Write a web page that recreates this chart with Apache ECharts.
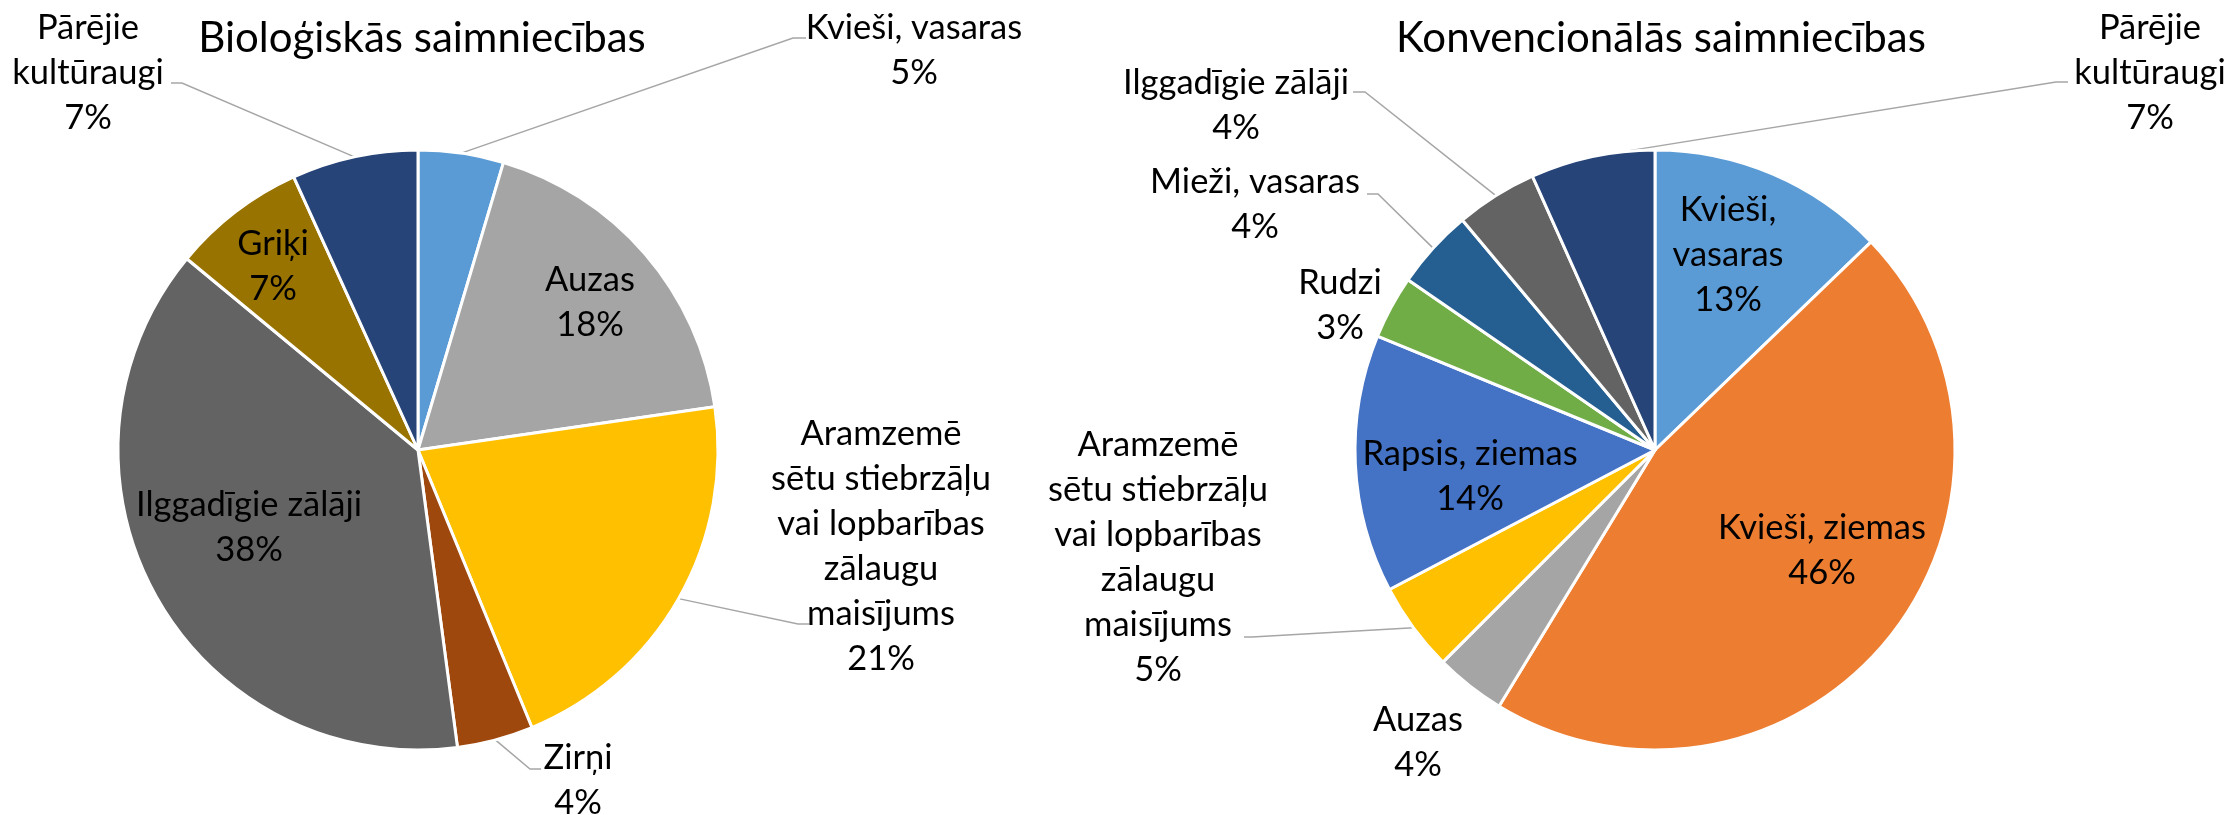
<!DOCTYPE html>
<html>
<head>
<meta charset="utf-8">
<title>Bioloģiskās un konvencionālās saimniecības</title>
<script src="https://cdn.jsdelivr.net/npm/echarts@6/dist/echarts.min.js"></script>
<style>
    html, body { margin: 0; padding: 0; background: #fff; }
    #chart { width: 2232px; height: 815px; }
</style>
</head>
<body>
<div id="chart"></div>
<script>
// Bioloģiskās saimniecības (clockwise from 12 o'clock)
var bioNames = ['Kvieši, vasaras', 'Auzas', 'Aramzemē\nsētu stiebrzāļu\nvai lopbarības\nzālaugu\nmaisījums',
    'Zirņi', 'Ilggadīgie zālāji', 'Griķi', 'Pārējie\nkultūraugi'];
var bioValues = [4.6, 18.1, 21.1, 4.1, 38.1, 7.2, 6.8];
var bioColors = ['#5B9BD5', '#A5A5A5', '#FFC000', '#9E480E', '#636363', '#997300', '#264478'];

// Konvencionālās saimniecības
var convNames = ['Kvieši,\nvasaras', 'Kvieši, ziemas', 'Auzas', 'Aramzemē\nsētu stiebrzāļu\nvai lopbarības\nzālaugu\nmaisījums',
    'Rapsis, ziemas', 'Rudzi', 'Mieži, vasaras', 'Ilggadīgie zālāji', 'Pārējie\nkultūraugi'];
var convValues = [12.8, 45.9, 3.8, 4.8, 13.9, 3.4, 4.3, 4.4, 6.7];
var convColors = ['#5B9BD5', '#ED7D31', '#A5A5A5', '#FFC000', '#4472C4', '#70AD47', '#255E91', '#636363', '#264478'];

// label placement (label centre, then knee + end of the leader line if there is one)
var bioSpots = [
    { at: [914, 50], line: [[793, 38], [806, 38]] },
    { at: [590, 302] },
    { at: [881, 546], line: [[798, 624], [809, 624]] },
    { at: [578, 780], line: [[530, 769], [541, 769]] },
    { at: [249, 527] },
    { at: [273, 266] },
    { at: [88, 73], line: [[182, 83], [171, 83]] }
];
var convSpots = [
    { at: [1728, 255] },
    { at: [1822, 550] },
    { at: [1418, 742] },
    { at: [1158, 557], line: [[1252, 637], [1244, 637]] },
    { at: [1470, 476] },
    { at: [1340, 305] },
    { at: [1255, 204], line: [[1378, 194], [1367, 194]] },
    { at: [1236, 105], line: [[1365, 92], [1353, 92]] },
    { at: [2150, 73], line: [[2056, 82], [2068, 82]] }
];

var FONT = 'Lato, "Noto Sans", sans-serif';

function buildData(names, values, colors, spots) {
    return names.map(function (n, i) {
        return {
            name: n,
            value: values[i],
            itemStyle: { color: colors[i] },
            labelLine: { show: !!spots[i].line }
        };
    });
}

function makeLayout(spots) {
    return function (params) {
        var s = spots[params.dataIndex];
        var out = { x: s.at[0], y: s.at[1], align: 'center', verticalAlign: 'middle' };
        if (s.line && params.labelLinePoints) {
            out.labelLinePoints = [params.labelLinePoints[0], s.line[0], s.line[1]];
        }
        return out;
    };
}

function pieSeries(name, center, data, spots) {
    return {
        name: name,
        type: 'pie',
        center: center,
        radius: 300,
        startAngle: 90,
        clockwise: true,
        avoidLabelOverlap: false,
        percentPrecision: 0,
        itemStyle: { borderColor: '#fff', borderWidth: 3 },
        label: {
            show: true,
            position: 'outside',
            overflow: 'none',
            formatter: '{b}\n{d}%',
            color: '#000',
            fontFamily: FONT,
            fontSize: 34.5,
            lineHeight: 45
        },
        labelLine: {
            lineStyle: { color: '#A6A6A6', width: 1.5 }
        },
        labelLayout: makeLayout(spots),
        emphasis: { disabled: true },
        data: data
    };
}

var chart = echarts.init(document.getElementById('chart'), null, { renderer: 'canvas' });

var titleStyle = { fontFamily: FONT, fontSize: 42, fontWeight: 'normal', color: '#000' };

chart.setOption({
    backgroundColor: '#fff',
    animation: false,
    title: [{
        text: 'Bioloģiskās saimniecības',
        left: 417,
        top: 12,
        textAlign: 'center',
        textStyle: titleStyle
    }, {
        text: 'Konvencionālās saimniecības',
        left: 1656,
        top: 12,
        textAlign: 'center',
        textStyle: titleStyle
    }],
    series: [
        pieSeries('Bioloģiskās saimniecības', [418, 450], buildData(bioNames, bioValues, bioColors, bioSpots), bioSpots),
        pieSeries('Konvencionālās saimniecības', [1655, 450], buildData(convNames, convValues, convColors, convSpots), convSpots)
    ]
});
</script>
</body>
</html>
